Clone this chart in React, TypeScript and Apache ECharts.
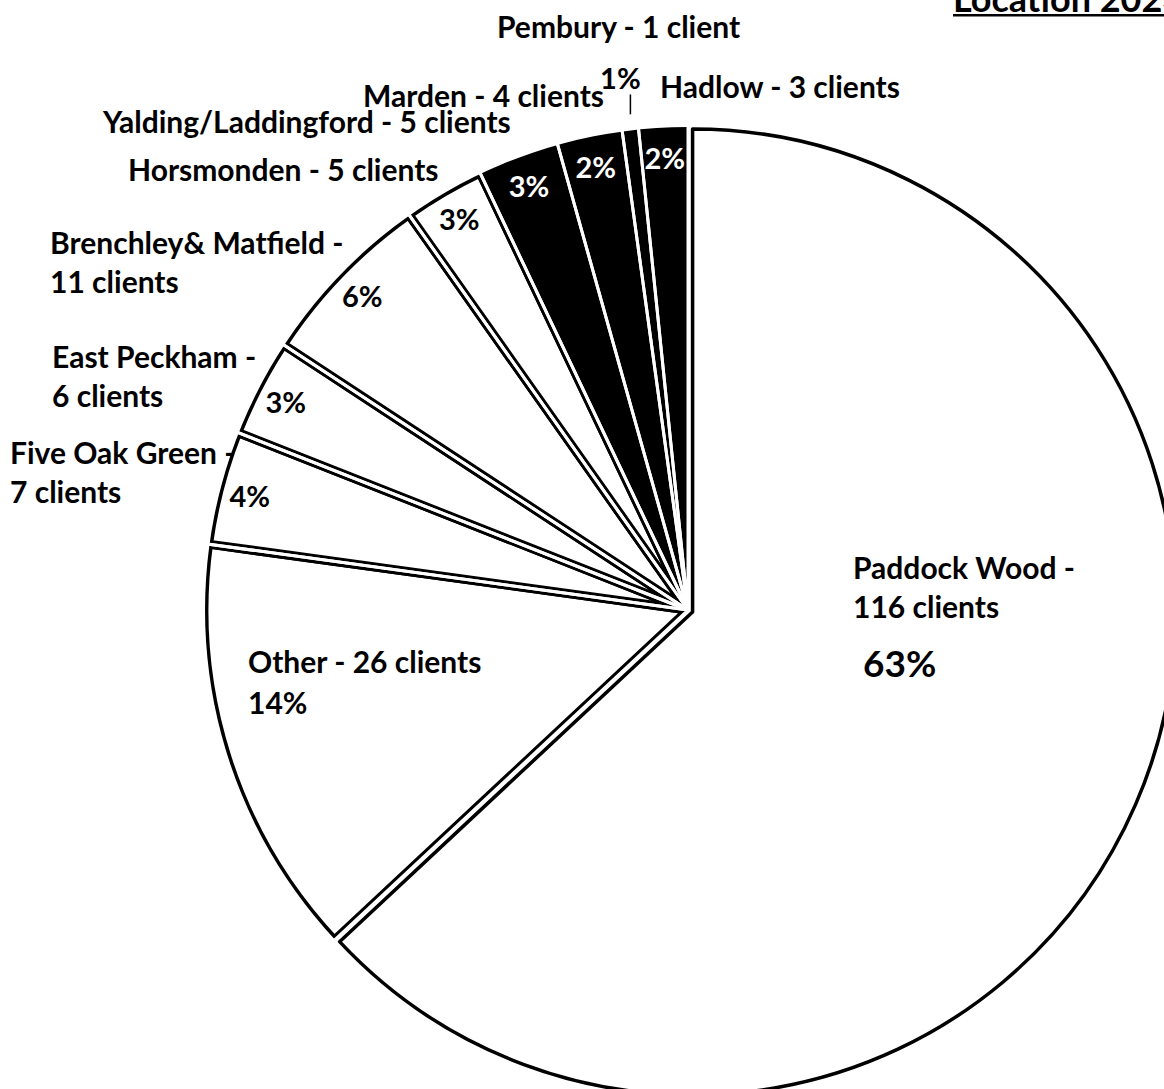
import { useEffect, useRef } from "react";
import * as echarts from "echarts";

// Where the clients live, listed clockwise from twelve o'clock
const places = [
  "Paddock Wood",
  "Other",
  "Five Oak Green",
  "East Peckham",
  "Brenchley& Matfield",
  "Horsmonden",
  "Yalding/Laddingford",
  "Marden",
  "Pembury",
  "Hadlow",
];
const clients = [116, 26, 7, 6, 11, 5, 5, 4, 1, 3];
const darkSlice = [false, false, false, false, false, false, true, true, true, true];

const TITLE = "Location 2023";

// Name label placement: left edge and centre of the first line
const NAME_AT: [number, number][] = [
  [853, 567],
  [248, 661],
  [10, 452],
  [52, 356],
  [50, 242],
  [128, 169],
  [103, 121],
  [363, 95],
  [497, 26],
  [660, 86],
];
// Names whose client count goes on a second line
const BREAK_NAME = [true, false, true, true, true, false, false, false, false, false];

const OTHER = places.indexOf("Other");
const PEMBURY = places.indexOf("Pembury");
const PADDOCK = places.indexOf("Paddock Wood");

const FONT = "Lato, 'Open Sans', sans-serif";
const CX = 688;
const CY = 610;
const R = 483;
const PULL_OUT = 5; // how far the largest slice is pulled away from the rest
const LINE_H = 39;
const NAME_SIZE = 30;
const PCT_SIZE = 29;

const total = clients.reduce((a, b) => a + b, 0);
const pct = (i: number) => Math.round((clients[i] * 100) / total);

const nameText = (i: number) => {
  const n = clients[i];
  const count = `${n} client${n === 1 ? "" : "s"}`;
  let s = `${places[i]} -${BREAK_NAME[i] ? "\n" : " "}${count}`;
  if (i === OTHER) s += `\n${pct(i)}%`;
  return s;
};

const CLEAR = "rgba(0,0,0,0)";

export default function App() {
  const ref = useRef<HTMLDivElement>(null);

  useEffect(() => {
    if (!ref.current) return;
    const chart = echarts.init(ref.current, undefined, { renderer: "svg" });

    const base = {
      type: "pie" as const,
      center: [CX, CY],
      startAngle: 90,
      clockwise: true,
      avoidLabelOverlap: false,
      silent: true,
      emphasis: { disabled: true },
      label: { show: false },
      labelLine: { show: false },
    };

    // The largest slice sits slightly apart, along its own bisector
    const mid = (clients[PADDOCK] / total) * Math.PI;
    const pulledCenter = [CX + PULL_OUT * Math.sin(mid), CY - PULL_OUT * Math.cos(mid)];
    const rest = total - clients[PADDOCK];
    const hidden = { color: CLEAR, borderWidth: 0 };

    // Small slices with a heavy black outline (largest slice left empty here)
    const slices = {
      ...base,
      name: "slices",
      radius: R + 1,
      itemStyle: { borderColor: "#000", borderWidth: 9, borderJoin: "bevel" },
      data: places.map((p, i) => ({
        name: p,
        value: clients[i],
        itemStyle: i === PADDOCK ? hidden : { color: darkSlice[i] ? "#000" : "#fff" },
      })),
    };

    // Thin white line down the middle of each outline, giving the double edge
    const seams = {
      ...base,
      name: "seams",
      radius: R + 8,
      itemStyle: { color: CLEAR, borderColor: "#fff", borderWidth: 3 },
      data: places.map((p, i) => ({
        name: p,
        value: clients[i],
        itemStyle: i === PADDOCK ? hidden : undefined,
      })),
    };

    // White band trimming the outer rim back to a single line
    const rim = {
      ...base,
      name: "rim",
      radius: [R, R + 16],
      itemStyle: { color: "#fff", borderWidth: 0 },
      data: [{ name: "all", value: total }],
    };

    // Largest slice: a white halo to open the gap, then the slice itself
    const bigHalo = {
      ...base,
      name: "bigHalo",
      center: pulledCenter,
      radius: R,
      itemStyle: { color: "#fff", borderColor: "#fff", borderWidth: 10, borderJoin: "bevel" },
      data: [
        { name: places[PADDOCK], value: clients[PADDOCK] },
        { name: "rest", value: rest, itemStyle: hidden },
      ],
    };
    const big = {
      ...base,
      name: "big",
      center: pulledCenter,
      radius: R,
      itemStyle: { color: "#fff", borderColor: "#000", borderWidth: 3.5 },
      data: [
        { name: places[PADDOCK], value: clients[PADDOCK] },
        { name: "rest", value: rest, itemStyle: hidden },
      ],
    };

    // Percentage labels near the rim of each slice
    const shares = {
      ...base,
      name: "shares",
      radius: [R - 66, R],
      itemStyle: hidden,
      label: {
        show: true,
        position: "inside",
        overflow: "none",
        formatter: (p: any) => `${pct(p.dataIndex)}%`,
        fontFamily: FONT,
        fontWeight: "bold",
        fontSize: PCT_SIZE,
        color: "#000",
      },
      labelLayout: (p: any) => {
        if (p.dataIndex === PADDOCK) {
          return { x: 863, y: 662, align: "left", verticalAlign: "middle", fontSize: 37 };
        }
        if (p.dataIndex === PEMBURY && p.labelLinePoints) {
          const [sx, sy] = p.labelLinePoints[0];
          const top = sy - 36;
          return {
            x: sx - 10,
            y: sy - 53,
            align: "center",
            verticalAlign: "middle",
            labelLinePoints: [
              [sx, sy],
              [sx, top],
              [sx, top],
            ],
          };
        }
        return {};
      },
      data: places.map((p, i) => {
        const item: any = { name: p, value: clients[i] };
        if (i === OTHER) item.label = { show: false };
        else if (i === PEMBURY) {
          item.label = { position: "outside", color: "#000" };
          item.labelLine = {
            show: true,
            length: 10,
            length2: 0,
            lineStyle: { color: "#000", width: 1.5 },
          };
        } else if (darkSlice[i]) {
          item.label = { color: "#fff", textBorderColor: "#000", textBorderWidth: 1 };
        }
        return item;
      }),
    };

    // Place names with their client counts
    const names = {
      ...base,
      name: "names",
      radius: R,
      itemStyle: hidden,
      label: {
        show: true,
        position: "inside",
        overflow: "none",
        formatter: (p: any) => nameText(p.dataIndex),
        fontFamily: FONT,
        fontWeight: "bold",
        fontSize: NAME_SIZE,
        lineHeight: LINE_H,
        color: "#000",
      },
      labelLayout: (p: any) => {
        const [x, y] = NAME_AT[p.dataIndex];
        const lh = p.dataIndex === OTHER ? 41 : LINE_H;
        return { x, y: y - lh / 2, align: "left", verticalAlign: "top" };
      },
      data: places.map((p, i) => ({
        name: p,
        value: clients[i],
        label: i === OTHER ? { lineHeight: 41 } : undefined,
      })),
    };

    chart.setOption({
      animation: false,
      backgroundColor: "#fff",
      graphic: [
        {
          type: "text",
          x: 953,
          y: -2,
          style: {
            text: TITLE,
            fontFamily: FONT,
            fontWeight: "bold",
            fontSize: 36,
            fill: "#000",
            verticalAlign: "middle",
          },
        },
        {
          type: "rect",
          shape: { x: 953, y: 14, width: 260, height: 2.5 },
          style: { fill: "#000" },
        },
      ],
      series: [slices, seams, rim, bigHalo, big, shares, names],
    });

    return () => chart.dispose();
  }, []);

  return (
    <div
      ref={ref}
      style={{ position: "absolute", left: 0, top: 0, width: 1164, height: 1089 }}
    />
  );
}
